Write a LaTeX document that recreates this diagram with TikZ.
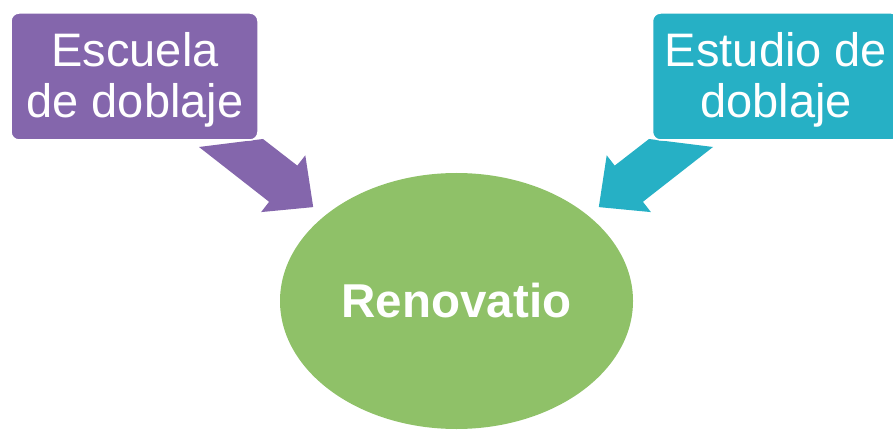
\documentclass[tikz,border=0pt]{standalone}
\usepackage{fontspec}
\setmainfont{Liberation Sans}
\usetikzlibrary{shapes.geometric}
\definecolor{cpurple}{RGB}{132,102,172}
\definecolor{cteal}{RGB}{38,176,197}
\definecolor{cgreen}{RGB}{143,193,104}
\tikzset{
  boxnode/.style={rectangle, rounded corners=8pt, draw=white, line width=1.5pt, minimum width=247pt, minimum height=127pt, inner sep=0pt},
  lbl/.style={text=white, inner sep=0pt, font=\fontsize{47}{51}\selectfont},
  blockarrow/.style={draw=none},
}
\begin{document}
\begin{tikzpicture}[x=1pt,y=-1pt]
\useasboundingbox (0,0) rectangle (893,430);
% arrows (drawn first, tails hidden behind the boxes)
\coordinate (escTip) at (313.2,207.1);
\coordinate (estTip) at (598.8,207.1);
\fill[cpurple, blockarrow] (199,147) -- (263,139) -- (297.3,165.6) -- (305.3,155.3) -- (escTip) -- (261.1,212.1) -- (269.1,201.8) -- cycle;
\fill[cteal, blockarrow] (713,147) -- (649,139) -- (614.7,165.6) -- (606.7,155.3) -- (estTip) -- (650.9,212.1) -- (642.9,201.8) -- cycle;
% boxes
\node[boxnode, fill=cpurple] (esc) at (134.5,76.5) {};
\begin{scope}
\clip (0,0) rectangle (893,430);
\node[boxnode, fill=cteal] (est) at (776,76.5) {};
\end{scope}
\node[lbl, anchor=base] (escA) at (135,67) {Escuela};
\node[lbl, anchor=base] (escB) at (135,118) {de doblaje};
\node[lbl, anchor=base] (estA) at (776,67) {Estudio de};
\node[lbl, anchor=base] (estB) at (776,118) {doblaje};
% ellipse
\node[ellipse, fill=cgreen, minimum width=353pt, minimum height=256pt, inner sep=0pt] (ren) at (456.5,301) {};
\node[lbl, anchor=base, font=\fontsize{47.5}{50}\selectfont\bfseries] (renT) at (456.5,317) {Renovatio};
\end{tikzpicture}
\end{document}
